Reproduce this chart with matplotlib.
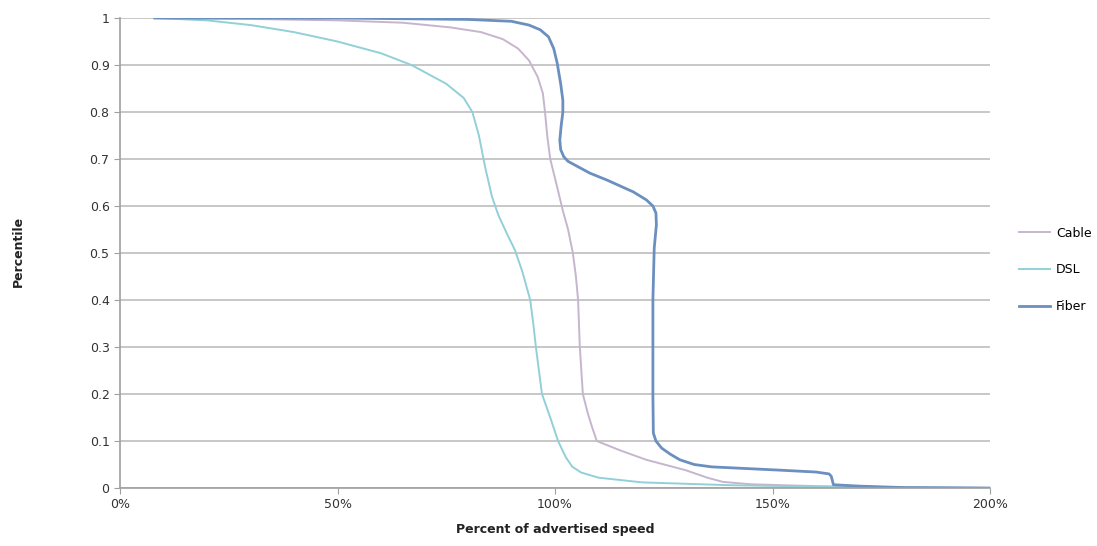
import matplotlib.pyplot as plt
from matplotlib.ticker import MultipleLocator, FuncFormatter

# ── Data (percent of advertised speed vs percentile) ──────────────────────────
dsl_x = [8, 20, 30, 40, 50, 60, 67, 75, 79, 81, 82.5, 84, 85.5, 87, 89, 90.8,
         92.5, 94.3, 95, 95.6, 96.3, 97, 98.9, 100.7, 102.5, 104, 106, 110,
         120, 140, 160, 180, 200]
dsl_y = [1.0, 0.995, 0.985, 0.97, 0.95, 0.925, 0.9, 0.86, 0.83, 0.80, 0.75,
         0.68, 0.62, 0.58, 0.54, 0.506, 0.46, 0.40, 0.35, 0.30, 0.25, 0.20,
         0.15, 0.10, 0.065, 0.045, 0.033, 0.022, 0.012, 0.006, 0.003, 0.001,
         0.0]

cable_x = [8, 30, 50, 65, 76, 83, 88, 91.5, 94, 96, 97.2, 97.7, 98.2, 98.9,
           100.5, 101.8, 103, 104.1, 104.8, 105.3, 105.7, 106.4, 107.5, 108.5,
           109.6, 115, 121, 130, 135, 138.6, 145, 160, 180, 200]
cable_y = [1.0, 0.998, 0.995, 0.99, 0.98, 0.97, 0.955, 0.935, 0.91, 0.875,
           0.84, 0.80, 0.75, 0.70, 0.64, 0.59, 0.55, 0.50, 0.45, 0.40, 0.30,
           0.20, 0.16, 0.13, 0.10, 0.08, 0.06, 0.038, 0.022, 0.013, 0.008,
           0.004, 0.001, 0.0]

fiber_x = [8, 50, 80, 90, 94, 96.6, 98.5, 99.7, 100.5, 101.3, 101.8, 101.8,
           101.4, 101.1, 101.3, 102, 103, 105, 108, 112, 118, 121, 122.5, 123.2,
           123.3, 122.8, 122.5, 122.5, 122.6, 123.2, 124.5, 126.5, 128.7, 132,
           136, 151.7, 160, 163, 163.5, 164, 170, 180, 200]
fiber_y = [1.0, 1.0, 0.997, 0.993, 0.985, 0.975, 0.96, 0.935, 0.904, 0.86,
           0.825, 0.80, 0.77, 0.74, 0.72, 0.705, 0.695, 0.685, 0.67, 0.655,
           0.63, 0.613, 0.60, 0.585, 0.56, 0.51, 0.40, 0.20, 0.117, 0.10,
           0.085, 0.072, 0.06, 0.05, 0.045, 0.038, 0.034, 0.03, 0.025, 0.007,
           0.004, 0.001, 0.0]

# ── Figure ────────────────────────────────────────────────────────────────────
fig = plt.figure(figsize=(10.97, 5.46), dpi=100)
ax = fig.add_axes([0.1094, 0.1062, 0.7931, 0.8608])

ax.plot(cable_x, cable_y, color='#C7B5CD', lw=1.4, label='Cable')
ax.plot(dsl_x, dsl_y, color='#92D0D8', lw=1.4, label='DSL')
ax.plot(fiber_x, fiber_y, color='#6B8FBE', lw=2.0, label='Fiber')

ax.set_xlim(0, 200)
ax.set_ylim(0, 1)
ax.xaxis.set_major_locator(MultipleLocator(50))
ax.yaxis.set_major_locator(MultipleLocator(0.1))
ax.xaxis.set_major_formatter(FuncFormatter(lambda v, p: f'{v:.0f}%'))
ax.yaxis.set_major_formatter(FuncFormatter(lambda v, p: f'{v:g}'))

ax.grid(axis='y', color='#BDBDBD', lw=1.2)
ax.set_axisbelow(True)
for s in ['top', 'right']:
    ax.spines[s].set_visible(False)
for s in ['left', 'bottom']:
    ax.spines[s].set_color('#A0A0A0')
    ax.spines[s].set_linewidth(1.2)
ax.tick_params(colors='#A0A0A0', labelcolor='#333333', labelsize=9, length=4)

ax.set_xlabel('Percent of advertised speed', fontsize=9, fontweight='bold',
              color='#222222', labelpad=8)
fig.text(0.017, 0.54, 'Percentile', rotation=90, fontsize=9,
         fontweight='bold', color='#222222', ha='center', va='center')

leg = ax.legend(loc='center left', bbox_to_anchor=(1.02, 0.464),
                frameon=False, fontsize=9, handlelength=2.5,
                labelspacing=1.9, handletextpad=0.5)

fig.savefig('out.png', dpi=100)
